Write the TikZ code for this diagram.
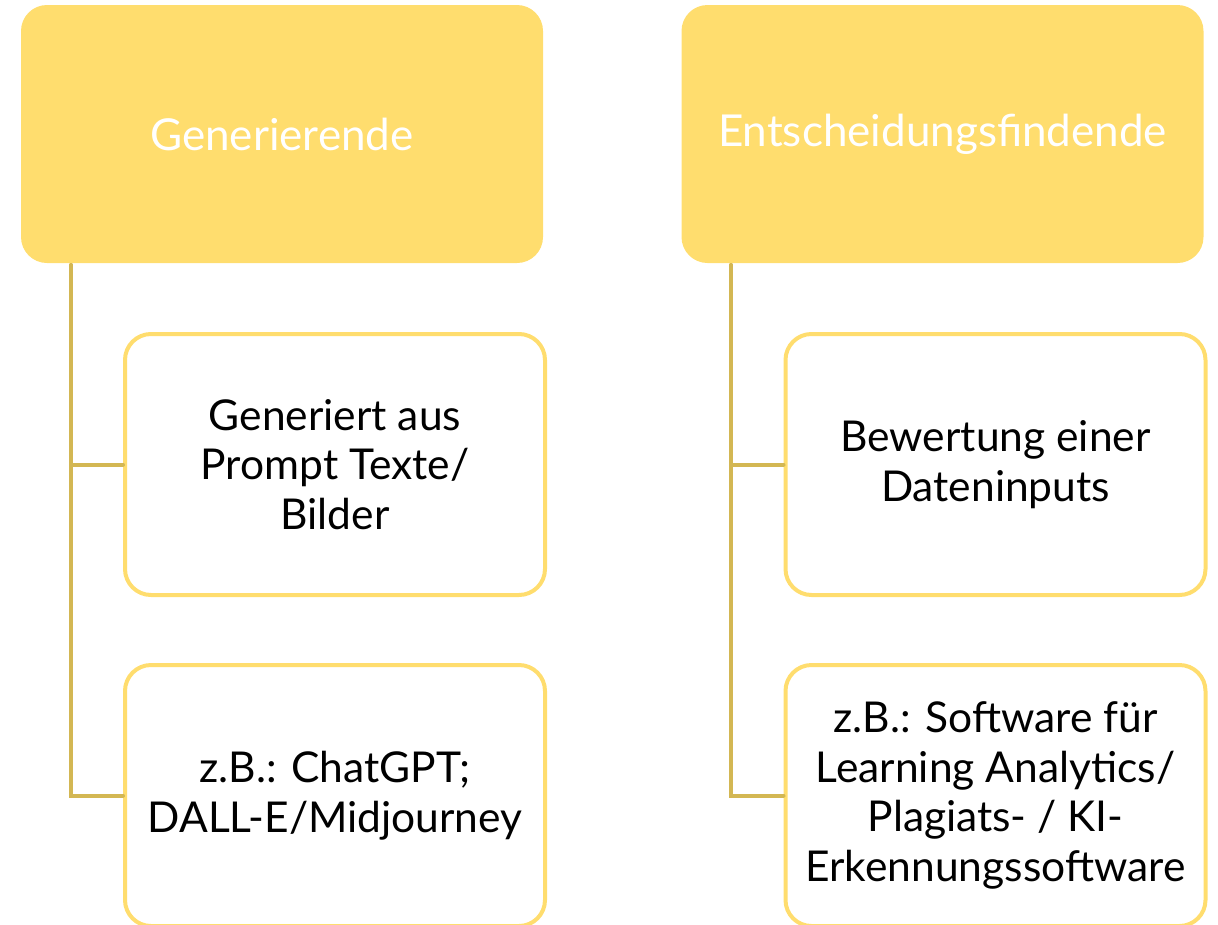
\documentclass[tikz,border=0pt]{standalone}
\usepackage{fontspec}
\setmainfont{Lato}
\usepackage{tikz}

\definecolor{goldfill}{HTML}{FFDD6E}
\definecolor{goldline}{HTML}{D3B753}

\tikzset{
  kind/.style={rectangle, rounded corners=26pt, fill=goldfill, text=white,
    minimum width=522pt, minimum height=258pt, font=\fontsize{44}{50}\selectfont},
  example/.style={rectangle, rounded corners=26pt, draw=goldfill, line width=4pt,
    fill=white, minimum width=420pt, minimum height=261pt, align=center,
    font=\fontsize{42.5}{49.5}\selectfont},
  branch/.style={draw=goldline, line width=4pt, line cap=round}
}

\begin{document}
\begin{tikzpicture}[x=1pt,y=-1pt]
\useasboundingbox (0,0) rectangle (1218,924);
\clip (0,0) rectangle (1218,924);

% obe skupini
\node[kind] (gen) at (282,134) {Generierende};
\node[kind] (ent) at (942.5,134) {Entscheidungsfindende};

% primeri pod skupinama
\node[example] (gen1) at (335,464.5) {Generiert aus\\Prompt Texte/\\Bilder};
\node[example] (gen2) at (335,795.5) {z.B.: ChatGPT;\\DALL-E/Midjourney};
\node[example] (ent1) at (995.5,464.5) {Bewertung einer\\Dateninputs};
\node[example] (ent2) at (995.5,795.5) {z.B.: Software für\\Learning Analytics/\\Plagiats- / KI-\\Erkennungssoftware};

% pomozni tocki za vertikalni crti
\coordinate (trunkgen) at (71,265);
\coordinate (trunkent) at (731,265);

\draw[branch] (trunkgen) |- (gen1.west);
\draw[branch] (trunkgen) |- (gen2.west);
\draw[branch] (trunkent) |- (ent1.west);
\draw[branch] (trunkent) |- (ent2.west);
\end{tikzpicture}
\end{document}
